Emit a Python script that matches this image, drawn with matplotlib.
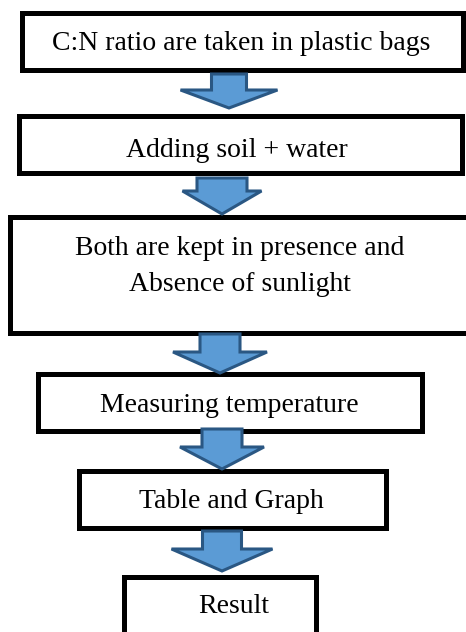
import matplotlib
matplotlib.use('Agg')
import matplotlib.pyplot as plt
from matplotlib.patches import Rectangle, FancyArrow

# flowchart steps, top to bottom
steps = ['C:N ratio are taken in plastic bags',
         'Adding soil + water',
         'Both are kept in presence and',
         'Absence of sunlight',
         'Measuring temperature',
         'Table and Graph',
         'Result']

# layout in pixels (y grows downwards)
boxes = [(19, 10, 465, 72),    # x0, y0, x1, y1 (outer edge)
         (16, 113, 464, 175),
         (7, 214, 475, 335),
         (35, 371, 424, 433),
         (76, 468, 388, 530),
         (121, 574, 318, 645)]
textPos = [(241, 50), (237, 157), (240, 255), (240, 291),
           (229, 412), (231, 508), (234, 613)]
# cx, top, tip, shaft width, head width, head length
arrows = [(229, 74, 108, 38, 100, 18),
          (222, 178, 214, 53, 82, 23),
          (220, 334, 373, 43, 97, 21),
          (222, 429, 469, 43, 87, 22),
          (222, 531, 571, 42, 104, 22)]

W, H = 466, 632
fig = plt.figure(figsize=(W / 100, H / 100), dpi=100)
ax = fig.add_axes([0, 0, 1, 1])
ax.set_xlim(0, W)
ax.set_ylim(H, 0)
ax.axis('off')

bw = 5  # border width px
for x0, y0, x1, y1 in boxes:
    ax.add_patch(Rectangle((x0 + bw / 2, y0 + bw / 2), x1 - x0 - bw, y1 - y0 - bw,
                           facecolor='white', edgecolor='black', lw=bw * 0.72,
                           joinstyle='miter'))

for cx, top, tip, sw, hw, hl in arrows:
    ax.add_patch(FancyArrow(cx, top, 0, tip - top, width=sw - 3, head_width=hw - 3,
                            head_length=hl, length_includes_head=True,
                            facecolor='#5B9BD5', edgecolor='#2A5783', lw=2.2,
                            joinstyle='miter', zorder=3))

for s, (x, y) in zip(steps, textPos):
    ax.text(x, y, s, ha='center', va='baseline', fontsize=20,
            family='Liberation Serif', color='black', zorder=4)

fig.savefig('out.png', dpi=100)
